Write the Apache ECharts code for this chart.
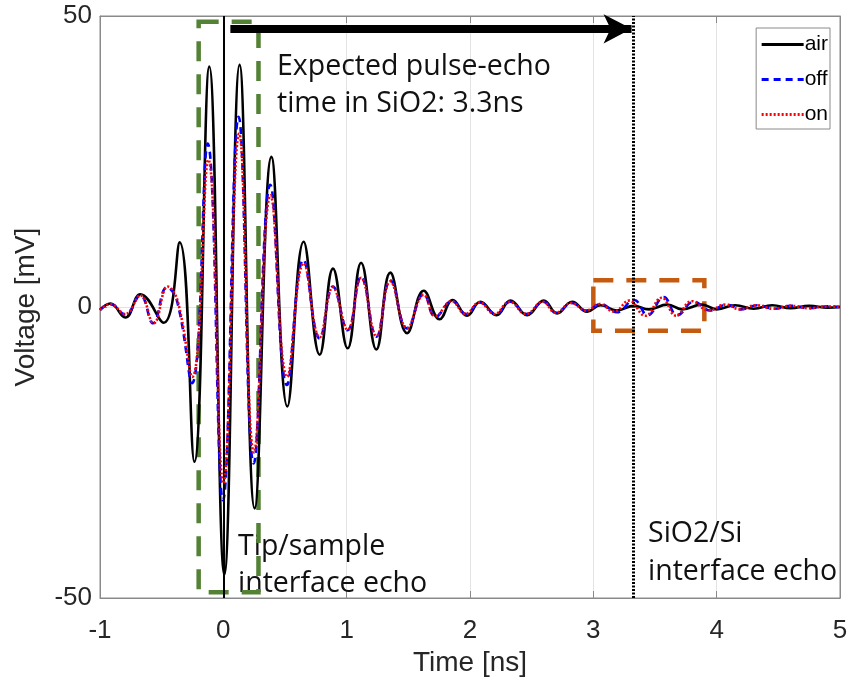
<!DOCTYPE html>
<html>
<head>
<meta charset="utf-8">
<script src="https://cdn.jsdelivr.net/npm/echarts@6/dist/echarts.min.js"></script>
<style>html,body{margin:0;padding:0;background:#fff}#c{width:851px;height:685px}</style>
</head>
<body>
<div id="c"></div>
<script>
// ---- data (time [ns], voltage [mV]) ----
var airData = [[-1,-0.5],[-0.916,0.6],[-0.795,-1.8],[-0.673,2.2],[-0.484,-2.7],[-0.354,11.1],[-0.235,-26.6],[-0.114,41.3],[0.008,-46],[0.132,41.6],[0.254,-34.6],[0.39,25.8],[0.519,-17.1],[0.651,11.2],[0.781,-8.2],[0.889,6.6],[1.008,-7.1],[1.117,7.6],[1.241,-7.3],[1.354,5.9],[1.49,-4.5],[1.625,2.8],[1.754,-2.1],[1.86,1.2],[1.976,-1.5],[2.084,0.9],[2.214,-1.4],[2.328,1.1],[2.463,-1.4],[2.598,1.1],[2.706,-1.1],[2.828,0.9],[2.95,-0.8],[3.058,0.3],[3.19,-0.6],[3.33,0.2],[3.45,-0.4],[3.6,0.4],[3.72,-0.4],[3.88,0.4],[4.0,-0.4],[4.15,0.3],[4.3,-0.3],[4.45,0.3],[4.6,-0.2],[4.75,0.2],[4.9,-0.1],[5,0]];
var offData = [[-1,-0.5],[-0.916,0.5],[-0.795,-1.3],[-0.673,2.0],[-0.57,-2.8],[-0.457,3.4],[-0.375,1.0],[-0.254,-13.1],[-0.127,28.1],[-0.003,-33.2],[0.124,32.7],[0.246,-26.9],[0.381,21],[0.516,-13.4],[0.65,8.1],[0.781,-5.4],[0.889,3.5],[1.008,-4.0],[1.117,5.2],[1.241,-5.1],[1.354,4.6],[1.49,-3.7],[1.625,2.2],[1.72,-1.7],[1.855,1.0],[1.97,-1.2],[2.08,0.8],[2.21,-1.2],[2.325,0.9],[2.46,-1.2],[2.595,0.9],[2.70,-1.0],[2.825,0.7],[2.945,-0.6],[3.06,0.5],[3.19,-0.9],[3.33,1.2],[3.44,-1.4],[3.57,1.7],[3.68,-1.4],[3.815,0.9],[3.95,-0.6],[4.08,0.4],[4.2,-0.4],[4.33,0.3],[4.47,-0.3],[4.6,0.2],[4.75,-0.2],[4.9,0.1],[5,0]];
var onData = [[-1,-0.5],[-0.916,0.5],[-0.795,-1.2],[-0.673,2.0],[-0.565,-2.8],[-0.45,3.5],[-0.37,1.0],[-0.252,-12],[-0.122,25.3],[0.0,-30.3],[0.128,29.8],[0.248,-25],[0.383,19.2],[0.518,-12],[0.652,7.5],[0.781,-5.2],[0.889,3.4],[1.008,-3.9],[1.117,5.0],[1.241,-5.0],[1.354,4.4],[1.49,-3.6],[1.625,2.1],[1.72,-1.6],[1.85,1.0],[1.965,-1.2],[2.075,0.8],[2.2,-1.2],[2.32,0.9],[2.455,-1.2],[2.59,0.9],[2.695,-1.0],[2.82,0.7],[2.94,-0.6],[3.05,0.5],[3.17,-0.8],[3.29,1.1],[3.42,-1.5],[3.555,1.6],[3.67,-1.5],[3.8,1.0],[3.935,-0.6],[4.07,0.4],[4.19,-0.4],[4.32,0.3],[4.46,-0.3],[4.6,0.2],[4.75,-0.2],[4.9,0.1],[5,0]];
var seriesNames = ['air', 'off', 'on'];
var xTicks = [-1, 0, 1, 2, 3, 4, 5];
var yTicks = [-50, 0, 50];
// annotation anchors (data units)
var zeroTime = 0;
var echoTime = 3.32;
var arrowFrom = [0.057, 47.8];
var arrowTo = [3.31, 47.8];
var greenBox = [[-0.2, 49], [0.285, -49]];
var orangeBox = [[3.0, 4.6], [3.9, -4.1]];

var chart = echarts.init(document.getElementById('c'), null, {renderer: 'canvas'});
var axisGray = '#8a8a8a';
var sansFont = 'Liberation Sans, Arial, sans-serif';
var noteFont = 'Open Sans, sans-serif';

function sideAxis(extra) {
  var base = {
    axisLine: {show: true, onZero: false, lineStyle: {color: axisGray}},
    axisTick: {show: true, inside: true, length: 7, lineStyle: {color: axisGray}},
    axisLabel: {show: false}, splitLine: {show: false}
  };
  for (var k in extra) base[k] = extra[k];
  return base;
}

var option = {
  animation: false,
  backgroundColor: '#ffffff',
  grid: {left: 100, right: 11, top: 16, bottom: 87, show: true, borderColor: axisGray, borderWidth: 1},
  legend: {
    data: seriesNames,
    orient: 'vertical',
    right: 21, top: 28,
    itemWidth: 42, itemHeight: 14, itemGap: 14,
    padding: [6, 2, 4, 4],
    borderColor: axisGray, borderWidth: 1, backgroundColor: '#fff',
    itemStyle: {opacity: 0},
    lineStyle: {width: 3},
    textStyle: {fontSize: 21, fontFamily: sansFont, color: '#000', padding: [0,0,0,-4]},
    z: 20
  },
  xAxis: [{
    type: 'value', min: -1, max: 5, interval: 1,
    name: 'Time [ns]', nameLocation: 'middle', nameGap: 50,
    nameTextStyle: {fontSize: 28, fontFamily: sansFont, color: '#262626'},
    axisLine: {onZero: false, lineStyle: {color: axisGray, width: 1}},
    axisTick: {inside: true, length: 7, lineStyle: {color: axisGray}},
    axisLabel: {fontSize: 26, margin: 20, fontFamily: sansFont, color: '#262626',
      formatter: function (v) { return xTicks.indexOf(v) >= 0 ? String(v) : ''; }},
    splitLine: {show: true, lineStyle: {color: '#e3e3e3', width: 1}}
  }, sideAxis({type: 'value', min: -1, max: 5, interval: 1, position: 'top'})],
  yAxis: [{
    type: 'value', min: -50, max: 50, interval: 50,
    name: 'Voltage [mV]', nameLocation: 'middle', nameGap: 60,
    nameTextStyle: {fontSize: 28, fontFamily: sansFont, color: '#262626'},
    axisLine: {show: true, onZero: false, lineStyle: {color: axisGray, width: 1}},
    axisTick: {show: true, inside: true, length: 7, lineStyle: {color: axisGray}},
    axisLabel: {fontSize: 26, margin: 8, fontFamily: sansFont, color: '#262626',
      formatter: function (v) { return yTicks.indexOf(v) >= 0 ? String(v) : ''; }},
    splitLine: {show: true, lineStyle: {color: '#e3e3e3', width: 1}}
  }, sideAxis({type: 'value', min: -50, max: 50, interval: 50, position: 'right'})],
  series: [{
    name: seriesNames[0], type: 'line', data: airData, smooth: 0.45, showSymbol: false, symbol: 'none',
    lineStyle: {color: '#000', width: 2.6, type: 'solid'}, itemStyle: {color: '#000'}, z: 3,
    markLine: {
      silent: true, symbol: ['none', 'none'], label: {show: false}, animation: false,
      data: [
        {xAxis: zeroTime, lineStyle: {color: '#000', width: 2, type: 'solid'}},
        {xAxis: echoTime, lineStyle: {color: '#000', width: 3, type: [2, 1.5]}},
        [{coord: arrowFrom, symbol: 'none', lineStyle: {color: '#000', width: 8, type: 'solid'}},
         {coord: arrowTo, symbol: 'arrow', symbolSize: [22, 28]}]
      ]
    }
  }, {
    name: seriesNames[1], type: 'line', data: offData, smooth: 0.45, showSymbol: false, symbol: 'none',
    lineStyle: {color: '#0000ff', width: 2.6, type: [7, 5]}, itemStyle: {color: '#0000ff'}, z: 4
  }, {
    name: seriesNames[2], type: 'line', data: onData, smooth: 0.45, showSymbol: false, symbol: 'none',
    lineStyle: {color: '#ff0000', width: 2.6, type: [2, 2]}, itemStyle: {color: '#ff0000'}, z: 5,
    markArea: {
      silent: true, label: {show: false},
      data: [
        [{coord: greenBox[0], itemStyle: {color: 'rgba(0,0,0,0)', borderColor: '#548235', borderWidth: 4.5, borderType: [20, 13]}}, {coord: greenBox[1]}],
        [{coord: orangeBox[0], itemStyle: {color: 'rgba(0,0,0,0)', borderColor: '#c55a11', borderWidth: 4.5, borderType: [20, 13]}}, {coord: orangeBox[1]}]
      ]
    }
  }],
  graphic: [
    {type: 'text', left: 277, top: 52, z: 1, style: {text: 'Expected pulse-echo', font: '28.5px ' + noteFont, fill: '#111'}},
    {type: 'text', left: 277, top: 89, z: 1, style: {text: 'time in SiO2: 3.3ns', font: '28.5px ' + noteFont, fill: '#111'}},
    {type: 'text', left: 238, top: 532, z: 1, style: {text: 'Tip/sample', font: '28.5px ' + noteFont, fill: '#111'}},
    {type: 'text', left: 238, top: 569, z: 1, style: {text: 'interface echo', font: '28.5px ' + noteFont, fill: '#111'}},
    {type: 'text', left: 648, top: 519, z: 1, style: {text: 'SiO2/Si', font: '28.5px ' + noteFont, fill: '#111'}},
    {type: 'text', left: 648, top: 557, z: 1, style: {text: 'interface echo', font: '28.5px ' + noteFont, fill: '#111'}}
  ]
};
chart.setOption(option);
</script>
</body>
</html>
